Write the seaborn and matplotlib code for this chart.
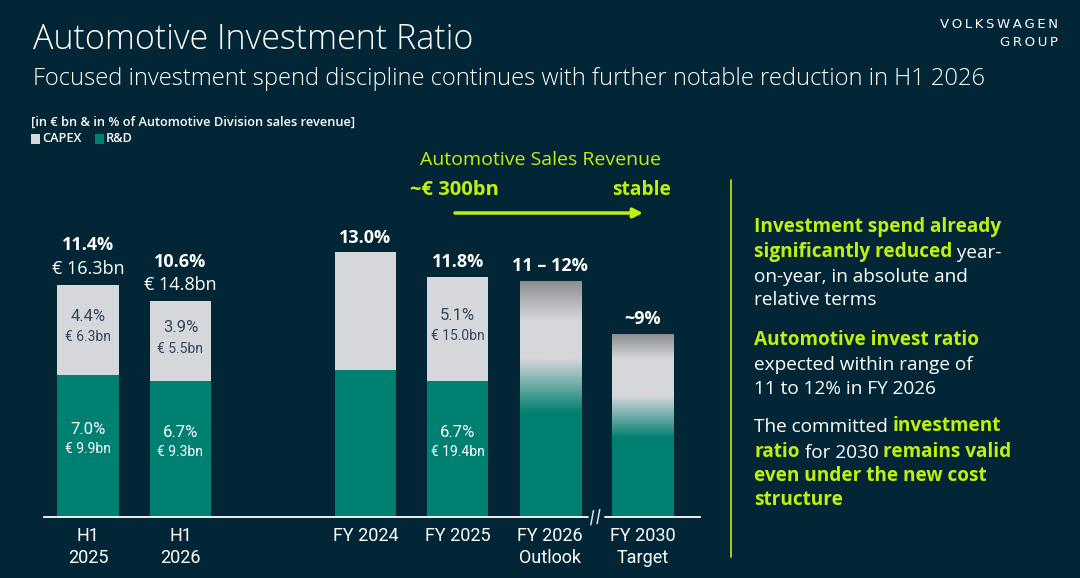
import numpy as np
import pandas as pd
import seaborn as sns
import matplotlib.pyplot as plt
from matplotlib.colors import LinearSegmentedColormap
from matplotlib.lines import Line2D
from matplotlib.patches import Rectangle

# =========================
# DATA
# =========================

periods = ["H1\n2025", "H1\n2026", "FY 2024", "FY 2025", "FY 2026\nOutlook", "FY 2030\nTarget"]
total_pct = [11.4, 10.6, 13.0, 11.8, 11.6, 9.0]
rnd_pct = [7.0, 6.7, 7.2, 6.7, np.nan, np.nan]
capex_pct = [4.4, 3.9, np.nan, 5.1, np.nan, np.nan]

total_labels = ["11.4%", "10.6%", "13.0%", "11.8%", "11 \u2013 12%", "~9%"]
total_bn = ["\u20ac 16.3bn", "\u20ac 14.8bn", "", "", "", ""]
capex_labels = ["4.4%", "3.9%", "", "5.1%", "", ""]
capex_bn = ["\u20ac 6.3bn", "\u20ac 5.5bn", "", "\u20ac 15.0bn", "", ""]
rnd_labels = ["7.0%", "6.7%", "", "6.7%", "", ""]
rnd_bn = ["\u20ac 9.9bn", "\u20ac 9.3bn", "", "\u20ac 19.4bn", "", ""]

# =========================
# STYLE
# =========================

BG = "#022636"
TEAL = "#008070"
GREY = "#d6d7db"
LIME = "#bff014"
DARK_TXT = "#33465a"
FONT = ["Open Sans", "DejaVu Sans"]
NARROW = ["Roboto", "DejaVu Sans"]

sns.set_style("dark", rc={"axes.facecolor": BG, "figure.facecolor": BG})
plt.rcParams["font.family"] = FONT

fig = plt.figure(figsize=(10.8, 5.78), dpi=100)
W, H = 1080, 578


def fx(px):
    return px / W


def fy(py):
    return 1 - py / H


# axes: baseline at y=517px, 20.35 px per percent point
ax = fig.add_axes([fx(44), fy(517), fx(700) - fx(44), 14 * 20.35 / H])
ax.set_facecolor(BG)

order = periods[:2] + [" "] + periods[2:]
df = pd.DataFrame({"period": periods, "total": total_pct, "rnd": rnd_pct})

sns.barplot(data=df, x="period", y="total", order=order, color=GREY,
            width=0.66, saturation=1, linewidth=0, ax=ax)
sns.barplot(data=df, x="period", y="rnd", order=order, color=TEAL,
            width=0.66, saturation=1, linewidth=0, ax=ax)

ax.set_xlabel("")
ax.set_ylabel("")
ax.set_yticks([])
ax.grid(False)
for s in ["top", "left", "right"]:
    ax.spines[s].set_visible(False)
ax.spines["bottom"].set_color("white")
ax.spines["bottom"].set_linewidth(1.3)
ax.tick_params(axis="x", length=0, pad=7, colors="white")
for lab in ax.get_xticklabels():
    lab.set_fontfamily(NARROW)
    lab.set_fontsize(13)
    lab.set_linespacing(1.3)

# gradient bars for outlook / target
grad_stops = {
    "FY 2026\nOutlook": [(0, TEAL), (0.44, TEAL), (0.67, GREY), (0.83, GREY), (1, "#8c8d91")],
    "FY 2030\nTarget": [(0, TEAL), (0.43, TEAL), (0.66, GREY), (0.86, GREY), (1, "#8a8b8f")],
}
for bar in ax.containers[0]:
    idx = int(round(bar.get_x() + bar.get_width() / 2))
    name = order[idx]
    if name in grad_stops:
        cmap = LinearSegmentedColormap.from_list(name, grad_stops[name])
        grad = np.linspace(0, 1, 256).reshape(-1, 1)
        x0 = bar.get_x()
        im = ax.imshow(grad, cmap=cmap, origin="lower", aspect="auto",
                       extent=(x0, x0 + bar.get_width(), 0, bar.get_height()),
                       zorder=bar.get_zorder() + 0.5)
        im.set_clip_path(bar)

ax.set_xlim(-0.476, 6.62)
ax.set_ylim(0, 14)

# axis break mark
ax.text(5.5, 0, "//", ha="center", va="center", color="white", fontsize=13,
        family=NARROW, rotation=10, bbox=dict(facecolor=BG, edgecolor="none", pad=0.3),
        clip_on=False, zorder=5)

# value labels
for i, name in enumerate(periods):
    pos = order.index(name)
    top = total_pct[i]
    if total_bn[i]:
        ax.annotate(total_labels[i], (pos, top), xytext=(0, 28.5), textcoords="offset points",
                    ha="center", va="center", color="white", fontsize=13, fontweight="bold")
        ax.annotate(total_bn[i], (pos, top), xytext=(0, 11.5), textcoords="offset points",
                    ha="center", va="center", color="white", fontsize=13)
    else:
        ax.annotate(total_labels[i], (pos, top), xytext=(0, 10.5), textcoords="offset points",
                    ha="center", va="center", color="white", fontsize=13, fontweight="bold")
    if capex_labels[i]:
        mid = rnd_pct[i] + capex_pct[i] / 2
        ax.annotate(capex_labels[i], (pos, mid), xytext=(0, 9.5), textcoords="offset points",
                    ha="center", va="center", color=DARK_TXT, fontsize=12, family=NARROW)
        ax.annotate(capex_bn[i], (pos, mid), xytext=(0, -5.5), textcoords="offset points",
                    ha="center", va="center", color=DARK_TXT, fontsize=10, family=NARROW)
    if rnd_labels[i]:
        mid = rnd_pct[i] / 2
        ax.annotate(rnd_labels[i], (pos, mid), xytext=(0, 12), textcoords="offset points",
                    ha="center", va="center", color="white", fontsize=12, family=NARROW)
        ax.annotate(rnd_bn[i], (pos, mid), xytext=(0, -2), textcoords="offset points",
                    ha="center", va="center", color="white", fontsize=10, family=NARROW)

# =========================
# HEADER
# =========================

fig.text(fx(33), fy(40), "Automotive Investment Ratio", color="white", fontsize=24.5,
         fontweight="light", va="center", ha="left")
fig.text(fx(33), fy(79), "Focused investment spend discipline continues with further notable reduction in H1 2026",
         color="white", fontsize=17.1, fontweight="light", va="center", ha="left")

logo_font = ["DejaVu Sans"]
fig.text(fx(1058), fy(25), "\u2009".join("VOLKSWAGEN"), color="white", fontsize=9.5,
         ha="right", va="center", family=logo_font)
fig.text(fx(1058), fy(42), "\u2009".join("GROUP"), color="white", fontsize=9.5,
         ha="right", va="center", family=logo_font)

fig.text(fx(31), fy(122), "[in \u20ac bn & in % of Automotive Division sales revenue]",
         color="white", fontsize=9.2, fontweight="semibold", va="center", ha="left")
fig.patches.append(Rectangle((fx(31), fy(144)), fx(9), 10 / H, transform=fig.transFigure,
                             facecolor=GREY, edgecolor="none"))
fig.text(fx(42), fy(139), "CAPEX", color="white", fontsize=9.2, fontweight="semibold",
         va="center", ha="left")
fig.patches.append(Rectangle((fx(95), fy(144)), fx(9), 10 / H, transform=fig.transFigure,
                             facecolor=TEAL, edgecolor="none"))
fig.text(fx(106), fy(139), "R&D", color="white", fontsize=9.2, fontweight="semibold",
         va="center", ha="left")

# sales revenue arrow
fig.text(fx(541), fy(160), "Automotive Sales Revenue", color=LIME, fontsize=14,
         ha="center", va="center")
fig.text(fx(410), fy(190), "~\u20ac 300bn", color=LIME, fontsize=14.5, fontweight="bold",
         ha="left", va="center")
fig.text(fx(671), fy(190), "stable", color=LIME, fontsize=13.8, fontweight="bold",
         ha="right", va="center")
ax.annotate("", xy=(fx(643), fy(213)), xytext=(fx(455), fy(213)),
            xycoords="figure fraction", textcoords="figure fraction",
            arrowprops=dict(arrowstyle="-|>", color=LIME, lw=2.5, mutation_scale=14,
                            shrinkA=0, shrinkB=0))

# vertical divider
fig.lines.append(Line2D([fx(731), fx(731)], [fy(180), fy(557)], transform=fig.transFigure,
                        color=LIME, lw=1.2))

# =========================
# RIGHT TEXT BLOCK
# =========================

lines = [
    (227, [("Investment spend already", True)]),
    (252, [("significantly reduced", True), (" year-", False)]),
    (277, [("on-year, in absolute and", False)]),
    (300, [("relative terms", False)]),
    (340, [("Automotive invest ratio", True)]),
    (365, [("expected within range of", False)]),
    (389, [("11 to 12% in FY 2026", False)]),
    (427, [("The committed ", False), ("investment", True)]),
    (452, [("ratio", True), (" for 2030 ", False), ("remains valid", True)]),
    (476, [("even under the new cost", True)]),
    (500, [("structure", True)]),
]

for ypx, parts in lines:
    prev = None
    for txt, bold in parts:
        kw = dict(color=LIME if bold else "white", fontsize=13.7,
                  fontweight="bold" if bold else "normal")
        if prev is None:
            prev = fig.text(fx(754), fy(ypx), txt, ha="left", va="center", **kw)
        else:
            prev = ax.annotate(txt, xy=(1, 0), xycoords=prev, ha="left", va="bottom",
                               annotation_clip=False, **kw)

fig.savefig("out.png", dpi=100, facecolor=BG)
